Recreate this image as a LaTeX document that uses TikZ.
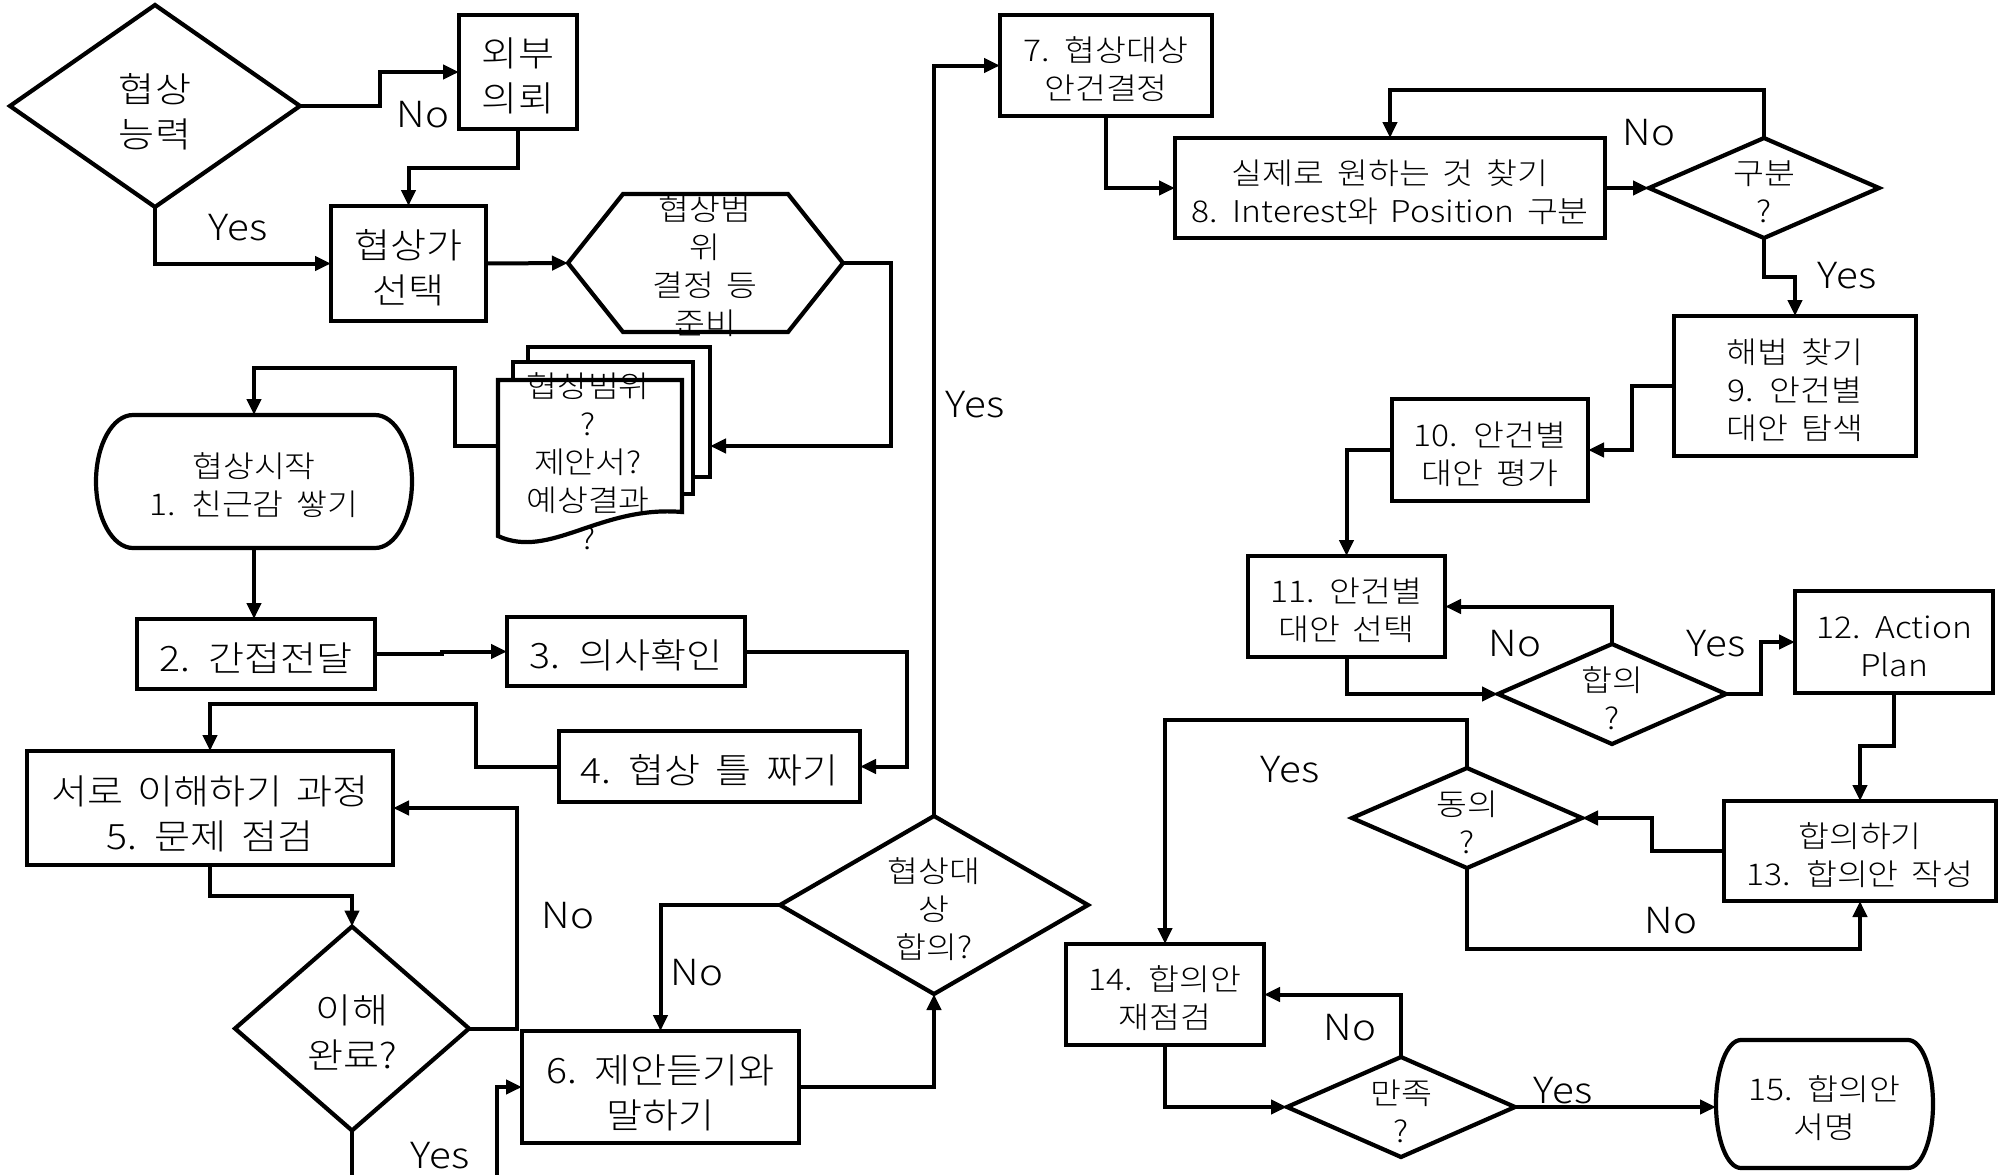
\documentclass[tikz,border=0pt]{standalone}
\usepackage{fontspec}
\setmainfont{Noto Sans CJK KR Light}[FakeStretch=1.12,WordSpace=1.7]
\usetikzlibrary{arrows.meta,calc}
\newcommand\mybt[4][-2pt]{\node[#3] (#2t) at ([yshift=#1]#2.center) {#4};}
\begin{document}
\begin{tikzpicture}[x=0.5pt,y=-0.5pt,
  line width=2.1pt,
  big/.style={font=\fontsize{17.5}{22.5}\selectfont, align=center, inner sep=0pt},
  small/.style={font=\fontsize{15}{19}\selectfont, align=center, inner sep=0pt},
  box/.style={draw, rectangle, inner sep=0pt, outer sep=0pt},
  shp/.style={inner sep=0pt, outer sep=0pt},
  lbl/.style={font=\fontsize{18}{22}\selectfont, inner sep=0pt},
  conn/.style={-{Triangle[length=8pt,width=7pt]}, line width=2pt},
]
\clip (0,0) rectangle (2004,1174);
\fill[white] (0,0) rectangle (2004,1174);

% ---------- nodes ----------
\node[shp, minimum width=145pt, minimum height=101pt] (d0) at (155,106) {};
\draw (d0.west) -- (d0.north) -- (d0.east) -- (d0.south) -- cycle;
\mybt[-3pt]{d0}{big}{협상\\능력}

\node[box, minimum width=59pt, minimum height=57pt] (ext) at (518,72) {};
\mybt{ext}{big}{외부\\의뢰}
\node[box, minimum width=77.5pt, minimum height=57.5pt] (hyp) at (408.5,263.5) {};
\mybt{hyp}{big}{협상가\\선택}

% hexagon
\node[shp, minimum width=137.5pt, minimum height=69pt] (hex) at (705.5,263) {};
\draw (hex.west) -- ($(hex.north west)+(55,0)$) -- ($(hex.north east)+(-55,0)$) -- (hex.east)
      -- ($(hex.south east)+(-55,0)$) -- ($(hex.south west)+(55,0)$) -- cycle;
\node[small] (hextext) at (705,266) {협상범\\위\\결정 등\\준비};

% document stack
\node[box, fill=white, minimum width=91pt, minimum height=65pt] (docback) at (619,412) {};
\node[box, fill=white, minimum width=90pt, minimum height=66pt] (docmid) at (603,428) {};
\node[shp, minimum width=92pt, minimum height=78pt] (docfront) at (590,458) {};
\draw[fill=white] (docfront.north west) -- (docfront.north east) -- ($(docfront.south east)+(0,-24)$)
   .. controls ($(docfront.south east)+(-82,-31)$) and ($(docfront.south west)+(52,24)$) .. (docfront.south west) -- cycle;
\node[small] (doctext) at (588,461) {협상범위\\?\\제안서?\\예상결과\\?};

% terminal 1
\node[shp, minimum width=158pt, minimum height=66.5pt] (t1) at (254,481.5) {};
\draw ($(t1.north west)+(37,0)$) -- ($(t1.north east)+(-37,0)$)
   arc[start angle=90, end angle=-90, x radius=18.5pt, y radius=33.25pt]
   -- ($(t1.south west)+(37,0)$)
   arc[start angle=270, end angle=90, x radius=18.5pt, y radius=33.25pt] -- cycle;
\mybt{t1}{small}{협상시작\\1. 친근감 쌓기}

\node[box, minimum width=119pt, minimum height=35pt] (b2) at (256,654) {};
\mybt{b2}{big}{2. 간접전달}
\node[box, minimum width=119pt, minimum height=34.5pt] (b3) at (626,651.5) {};
\mybt{b3}{big}{3. 의사확인}
\node[box, minimum width=150.5pt, minimum height=35.5pt] (b4) at (709.5,766.5) {};
\mybt{b4}{big}{4. 협상 틀 짜기}
\node[box, minimum width=183pt, minimum height=57pt] (b5) at (210,808) {};
\mybt[-2.7pt]{b5}{big}{서로 이해하기 과정\\5. 문제 점검}

\node[shp, minimum width=117pt, minimum height=102pt] (d1) at (352,1028.5) {};
\draw (d1.west) -- (d1.north) -- (d1.east) -- (d1.south) -- cycle;
\mybt{d1}{big}{이해\\완료?}

\node[box, minimum width=138.5pt, minimum height=56pt] (b6) at (660.5,1087) {};
\mybt[-3pt]{b6}{big}{6. 제안듣기와\\말하기}

\node[shp, minimum width=154pt, minimum height=89pt] (d2) at (934,905) {};
\draw (d2.west) -- (d2.north) -- (d2.east) -- (d2.south) -- cycle;
\mybt{d2}{small}{협상대\\상\\합의?}

\node[box, minimum width=106pt, minimum height=50.5pt] (b7) at (1106,65.5) {};
\mybt{b7}{small}{7. 협상대상\\안건결정}
\node[box, minimum width=215pt, minimum height=50pt] (b8) at (1390,188) {};
\mybt{b8}{small}{실제로 원하는 것 찾기\\8. Interest와 Position 구분}

\node[shp, minimum width=115pt, minimum height=50pt] (d3) at (1764,188) {};
\draw (d3.west) -- (d3.north) -- (d3.east) -- (d3.south) -- cycle;
\mybt{d3}{small}{구분\\?}

\node[box, minimum width=121pt, minimum height=70pt] (b9) at (1795,386) {};
\mybt{b9}{small}{해법 찾기\\9. 안건별\\대안 탐색}
\node[box, minimum width=98pt, minimum height=51pt] (b10) at (1490,450) {};
\mybt{b10}{small}{10. 안건별\\대안 평가}
\node[box, minimum width=98.5pt, minimum height=50.5pt] (b11) at (1346.5,606.5) {};
\mybt{b11}{small}{11. 안건별\\대안 선택}

\node[shp, minimum width=114pt, minimum height=50pt] (d4) at (1612,694) {};
\draw (d4.west) -- (d4.north) -- (d4.east) -- (d4.south) -- cycle;
\mybt{d4}{small}{합의\\?}

\node[box, minimum width=99pt, minimum height=51pt] (b12) at (1894,642) {};
\mybt{b12}{small}{12. Action\\Plan}
\node[box, minimum width=136pt, minimum height=50pt] (b13) at (1860,851) {};
\mybt{b13}{small}{합의하기\\13. 합의안 작성}

\node[shp, minimum width=115pt, minimum height=50pt] (d5) at (1467,818) {};
\draw (d5.west) -- (d5.north) -- (d5.east) -- (d5.south) -- cycle;
\mybt{d5}{small}{동의\\?}

\node[box, minimum width=99pt, minimum height=50.5pt] (b14) at (1165,994.5) {};
\mybt{b14}{small}{14. 합의안\\재점검}

\node[shp, minimum width=114pt, minimum height=50pt] (d6) at (1401,1107) {};
\draw (d6.west) -- (d6.north) -- (d6.east) -- (d6.south) -- cycle;
\mybt{d6}{small}{만족\\?}

% terminal 15
\node[shp, minimum width=108.5pt, minimum height=64pt] (t15) at (1824.5,1104) {};
\draw ($(t15.north west)+(25,0)$) -- ($(t15.north east)+(-25,0)$)
   arc[start angle=90, end angle=-90, x radius=12.5pt, y radius=32pt]
   -- ($(t15.south west)+(25,0)$)
   arc[start angle=270, end angle=90, x radius=12.5pt, y radius=32pt] -- cycle;
\mybt{t15}{small}{15. 합의안\\서명}

\coordinate (yb) at (497,1210);

% ---------- connectors ----------
\draw[conn] (d0.east) -- ++(80,0) |- (ext.west);
\draw[conn] (ext.south) -- ++(0,39) -| (hyp.north);
\draw[conn] (d0.south) |- (hyp.west);
\draw[conn] (hyp.east) -- (hex.west);
\draw[conn] (hex.east) -- ++(48,0) |- ([yshift=-17pt]docback.east);
\draw[conn] ([yshift=6pt]docfront.west) -- ++(-43,0) -- ++(0,-78) -| (t1.north);
\draw[conn] (t1.south) -- (t1.south |- b2.north);
\draw[conn] (b2.east) -- ++(67,0) |- (b3.west);
\draw[conn] (b3.east) -- ++(162,0) |- (b4.east);
\draw[conn] (b4.west) -- ++(-83,0) -- ++(0,-62.5) -| (b5.north);
\draw[conn] (b5.south) -- ++(0,31) -| (d1.north);
\draw[conn] (d1.east) -- ++(48,0) |- (b5.east);
\draw[conn] (d1.south) |- (yb) |- (b6.west);
\draw[conn] (b6.east) -| (d2.south);
\draw[conn] (d2.west) -| (b6.north);
\draw[conn] (d2.north) |- (b7.west);
\draw[conn] (b7.south) |- (b8.west);
\draw[conn] (b8.east) -- (d3.west);
\draw[conn] (d3.north) -- ++(0,-48) -| (b8.north);
\draw[conn] (d3.south) -- ++(0,39) -| (b9.north);
\draw[conn] (b9.west) -- ++(-42,0) |- (b10.east);
\draw[conn] (b10.west) -| (b11.north);
\draw[conn] (b11.south) |- (d4.west);
\draw[conn] (d4.north) |- (b11.east);
\draw[conn] (d4.east) -- ++(35,0) |- (b12.west);
\draw[conn] (b12.south) -- ++(0,53) -| (b13.north);
\draw[conn] (b13.west) -- ++(-72,0) |- (d5.east);
\draw[conn] (d5.south) -- ++(0,81) -| (b13.south);
\draw[conn] (d5.north) -- ++(0,-48) -| (b14.north);
\draw[conn] (b14.south) |- (d6.west);
\draw[conn] (d6.north) |- (b14.east);
\draw[conn] (d6.east) -- (d6.east -| t15.west);

% ---------- labels ----------
\node[lbl] (lno0) at (423,115) {No};
\node[lbl] (lyes0) at (238,228) {Yes};
\node[lbl] (lno1) at (568,916) {No};
\node[lbl] (lyes1) at (440,1156) {Yes};
\node[lbl] (lno2) at (697,973) {No};
\node[lbl] (lyes2) at (975,405) {Yes};
\node[lbl] (lno3) at (1649,133) {No};
\node[lbl] (lyes3) at (1847,276) {Yes};
\node[lbl] (lno4) at (1515,644) {No};
\node[lbl] (lyes4) at (1716,644) {Yes};
\node[lbl] (lyes5) at (1290,770) {Yes};
\node[lbl] (lno5) at (1671,921) {No};
\node[lbl] (lno6) at (1350,1028) {No};
\node[lbl] (lyes6) at (1563,1091) {Yes};
\end{tikzpicture}
\end{document}
